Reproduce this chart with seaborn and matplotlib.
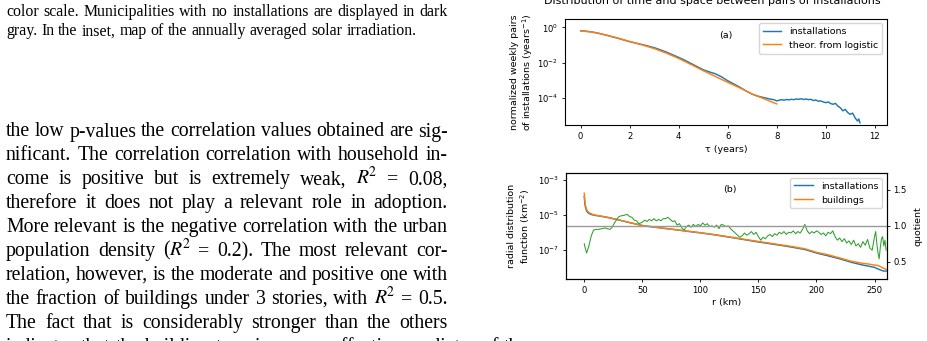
import matplotlib
matplotlib.use("Agg")
import matplotlib.pyplot as plt
import seaborn as sns
import numpy as np
import pandas as pd
from matplotlib.ticker import FixedLocator, NullLocator

# ---------------- data ----------------
tau_inst = [0.0, 0.25, 0.5, 0.75, 1.0, 1.25, 1.5, 1.75, 2.0, 2.25, 2.5, 2.75, 3.0, 3.25,
            3.5, 3.75, 4.0, 4.25, 4.5, 4.75, 5.0, 5.25, 5.5, 5.75, 6.0, 6.25, 6.5, 6.75,
            7.0, 7.25, 7.5, 7.6, 7.7, 7.8, 7.9, 8.0, 8.1, 8.2, 8.3, 8.4, 8.5, 8.6, 8.7,
            8.8, 8.9, 9.0, 9.1, 9.2, 9.3, 9.4, 9.5, 9.6, 9.7, 9.8, 9.9, 10.0, 10.1, 10.2,
            10.3, 10.4, 10.5, 10.6, 10.7, 10.8, 10.9, 11.0, 11.1, 11.2, 11.3, 11.35, 11.4]
log10_pairs_inst = [-0.19, -0.22, -0.27, -0.34, -0.43, -0.52, -0.61, -0.71, -0.81, -0.89,
                    -0.97, -1.06, -1.15, -1.27, -1.40, -1.55, -1.70, -1.86, -2.04, -2.22,
                    -2.40, -2.52, -2.63, -2.80, -3.02, -3.20, -3.39, -3.60, -3.78, -3.90,
                    -3.98, -4.01, -4.05, -4.07, -4.10, -4.16, -4.12, -4.09, -4.12, -4.08,
                    -4.10, -4.07, -4.09, -4.05, -4.07, -4.04, -4.08, -4.05, -4.09, -4.07,
                    -4.14, -4.11, -4.18, -4.16, -4.22, -4.26, -4.22, -4.31, -4.35, -4.30,
                    -4.46, -4.55, -4.72, -4.64, -4.82, -4.92, -4.85, -5.12, -5.30, -5.18, -5.40]

tau_theor = [0.0, 0.5, 1.0, 1.5, 2.0, 2.5, 3.0, 3.5, 4.0, 4.5, 5.0, 5.5, 6.0, 6.5, 7.0, 7.5, 8.0]
log10_pairs_theor = [-0.20, -0.28, -0.42, -0.60, -0.80, -0.99, -1.20, -1.46, -1.76, -2.10,
                     -2.45, -2.78, -3.11, -3.43, -3.77, -4.05, -4.33]

r_rdf = [0, 0.5, 1, 2, 3, 5, 7, 10, 15, 20, 30, 40, 50, 60, 70, 80, 90, 100, 110, 120, 130,
         140, 150, 160, 170, 180, 190, 200, 210, 220, 230, 240, 245, 250, 253, 256, 258, 260]
log10_rdf_inst = [-3.95, -4.35, -4.55, -4.76, -4.86, -4.95, -4.99, -5.03, -5.08, -5.14, -5.29,
                  -5.45, -5.60, -5.69, -5.77, -5.85, -5.94, -6.02, -6.11, -6.21, -6.32, -6.43,
                  -6.54, -6.64, -6.74, -6.85, -6.97, -7.17, -7.33, -7.50, -7.70, -7.86, -7.92,
                  -7.99, -8.08, -8.16, -8.20, -8.20]
log10_rdf_build = [-3.76, -4.20, -4.45, -4.68, -4.80, -4.90, -4.96, -5.01, -5.07, -5.13, -5.28,
                   -5.44, -5.60, -5.69, -5.77, -5.85, -5.93, -6.01, -6.10, -6.20, -6.30, -6.41,
                   -6.51, -6.61, -6.71, -6.81, -6.93, -7.13, -7.27, -7.45, -7.64, -7.76, -7.80,
                   -7.86, -7.88, -7.98, -8.05, -8.10]

r_quot = [0, 1, 2, 4, 6, 8, 10, 12, 15, 18, 20, 22, 24, 26, 28, 30, 32, 35, 37, 39, 41, 43, 45,
          47, 50, 52, 54, 56, 58, 60, 62, 64, 66, 68, 70, 72, 74, 76, 78, 80, 82, 84, 86, 88,
          90, 92, 94, 96, 98, 100, 102, 104, 106, 108, 110, 112, 114, 116, 118, 120, 122, 124,
          126, 128, 130, 132, 134, 136, 138, 140, 142, 144, 146, 148, 150, 152, 154, 156, 158,
          160, 162, 164, 166, 168, 170, 172, 174, 176, 178, 180, 182, 184, 186, 188, 190, 192,
          194, 196, 198, 200, 202, 204, 206, 208, 210, 212, 214, 216, 218, 220, 222, 224, 226,
          228, 230, 232, 234, 236, 238, 240, 242, 244, 246, 248, 250, 251, 252, 253, 254, 255,
          256, 257, 258, 259, 260]
quotient = [0.75, 0.68, 0.62, 0.72, 0.86, 0.94, 0.95, 0.95, 0.96, 0.97, 0.96, 0.95, 0.98, 1.04,
            1.09, 1.13, 1.14, 1.15, 1.16, 1.13, 1.12, 1.08, 1.07, 1.03, 1.05, 1.08, 1.06, 1.09,
            1.07, 1.10, 1.07, 1.09, 1.07, 1.10, 1.10, 1.12, 1.09, 1.06, 1.07, 1.01, 1.03, 0.97,
            0.94, 0.99, 1.01, 0.98, 1.02, 0.99, 1.02, 1.00, 1.04, 1.01, 1.03, 0.99, 1.00, 0.98,
            1.01, 0.96, 1.02, 1.01, 0.99, 1.00, 0.96, 0.93, 0.90, 0.87, 0.84, 0.86, 0.90, 0.87,
            0.89, 0.92, 0.88, 0.91, 0.85, 0.80, 0.84, 0.82, 0.86, 0.88, 0.85, 0.89, 0.87, 0.91,
            0.89, 0.92, 0.88, 0.91, 0.90, 0.93, 0.89, 0.92, 0.90, 0.95, 1.02, 0.93, 0.89, 0.92,
            0.90, 0.93, 0.91, 0.88, 0.90, 0.86, 0.91, 0.89, 0.93, 0.85, 0.80, 0.83, 0.78, 0.82,
            0.76, 0.79, 0.74, 0.80, 0.72, 0.75, 0.70, 0.78, 0.73, 0.81, 0.69, 0.66, 0.85, 0.92,
            0.75, 0.62, 0.54, 0.70, 0.82, 0.85, 0.72, 0.80, 0.66]

tau_ticks = [0, 2, 4, 6, 8, 10, 12]
pairs_ticks = [1e0, 1e-2, 1e-4]
r_ticks = [0, 50, 100, 150, 200, 250]
rdf_ticks = [1e-3, 1e-5, 1e-7]
quot_ticks = [0.5, 1.0, 1.5]

caption_lines = [
    "color scale. Municipalities with no installations are displayed in dark",
    "gray. In the inset, map of the annually averaged solar irradiation.",
]
body_lines = [
    "the low p-values the correlation values obtained are sig-",
    "nificant. The correlation correlation with household in-",
    "come is positive but is extremely weak, $R^{\\!2}$ = 0.08,",
    "therefore it does not play a relevant role in adoption.",
    "More relevant is the negative correlation with the urban",
    "population density ($R^{\\!2}$ = 0.2). The most relevant cor-",
    "relation, however, is the moderate and positive one with",
    "the fraction of buildings under 3 stories, with $R^{\\!2}$ = 0.5.",
    "The fact that is considerably stronger than the others",
    "indicates that the building type is a more effective predictor of the",
]

# ---------------- figure ----------------
W, H = 928, 341
LAB = 6.8     # axis labels / legend
TCK = 6.1     # tick labels
plt.rcParams.update({
    "font.family": ["DejaVu Sans"],
    "mathtext.fontset": "dejavusans",
    "axes.linewidth": 0.8,
    "xtick.major.size": 2.45, "ytick.major.size": 2.45,
    "xtick.major.width": 0.6, "ytick.major.width": 0.6,
    "xtick.major.pad": 2.45, "ytick.major.pad": 2.45,
    "xtick.labelsize": TCK, "ytick.labelsize": TCK,
    "font.size": LAB,
})
fig = plt.figure(figsize=(W / 100, H / 100), dpi=100)


def px_axes(x0, y0, x1, y1):
    return fig.add_axes([x0 / W, 1 - y1 / H, (x1 - x0) / W, (y1 - y0) / H])


blue, orange, green = "#1f77b4", "#ff7f0e", "#2ca02c"

# ----- panel (a) -----
ax1 = px_axes(565, 18.5, 886.7, 125.3)
df_inst = pd.DataFrame({"tau": tau_inst, "pairs": np.power(10.0, log10_pairs_inst)})
df_theor = pd.DataFrame({"tau": tau_theor, "pairs": np.power(10.0, log10_pairs_theor)})
sns.lineplot(data=df_inst, x="tau", y="pairs", ax=ax1, color=blue, lw=1.05,
             label="installations", estimator=None, sort=False)
sns.lineplot(data=df_theor, x="tau", y="pairs", ax=ax1, color=orange, lw=1.05,
             label="theor. from logistic", estimator=None, sort=False)
ax1.set_yscale("log")
ax1.set_xlim(-0.64, 12.49)
ax1.set_ylim(10 ** -5.54, 10 ** 0.5)
ax1.xaxis.set_major_locator(FixedLocator(tau_ticks))
ax1.yaxis.set_major_locator(FixedLocator(pairs_ticks))
ax1.yaxis.set_minor_locator(NullLocator())
ax1.set_xlabel("τ (years)", fontsize=LAB)
ax1.xaxis.set_label_coords(0.5, -0.18)
ax1.set_ylabel("")
ax1.text((522.5 - 565) / 321.7, 0.5, "normalized weekly pairs\nof installations (years$^{-1}$)",
         transform=ax1.transAxes, rotation=90, ha="center", va="center", ma="center",
         fontsize=LAB)
ax1.text(0.5, 0.84, "(a)", transform=ax1.transAxes, ha="center", va="center", fontsize=LAB)
ax1.legend(loc="upper right", fontsize=LAB)

# ----- panel (b) -----
ax2 = px_axes(565.7, 173.3, 886.7, 279.3)
df_rdf = pd.DataFrame({"r": r_rdf,
                       "inst": np.power(10.0, log10_rdf_inst),
                       "build": np.power(10.0, log10_rdf_build)})
sns.lineplot(data=df_rdf, x="r", y="inst", ax=ax2, color=blue, lw=1.05,
             label="installations", estimator=None, sort=False)
sns.lineplot(data=df_rdf, x="r", y="build", ax=ax2, color=orange, lw=1.05,
             label="buildings", estimator=None, sort=False)
ax2.set_yscale("log")
ax2.set_xlim(-16, 260.5)
ax2.set_ylim(10 ** -8.67, 10 ** -2.62)
ax2.xaxis.set_major_locator(FixedLocator(r_ticks))
ax2.yaxis.set_major_locator(FixedLocator(rdf_ticks))
ax2.yaxis.set_minor_locator(NullLocator())
ax2.set_xlabel("r (km)", fontsize=LAB)
ax2.xaxis.set_label_coords(0.5, -0.175)
ax2.set_ylabel("")
ax2.text((519.2 - 565.7) / 321.0, 0.5, "radial distribution\nfunction (km$^{-2}$)",
         transform=ax2.transAxes, rotation=90, ha="center", va="center", ma="center",
         fontsize=LAB)
ax2.text(0.51, 0.85, "(b)", transform=ax2.transAxes, ha="center", va="center", fontsize=LAB)
ax2.legend(loc="upper right", fontsize=LAB)

ax2q = ax2.twinx()
df_q = pd.DataFrame({"r": r_quot, "q": quotient})
sns.lineplot(data=df_q, x="r", y="q", ax=ax2q, color=green, lw=0.75,
             estimator=None, sort=False, legend=False)
ax2q.axhline(1.0, color="0.6", lw=1.0)
ax2q.set_ylim(0.254, 1.733)
ax2q.set_xlim(-16, 260.5)
ax2q.yaxis.set_major_locator(FixedLocator(quot_ticks))
ax2q.set_ylabel("")
ax2q.text((918.3 - 565.7) / 321.0, 0.5, "quotient", transform=ax2q.transAxes,
          rotation=90, ha="center", va="center", fontsize=LAB)

fig.text(712.8 / W, 1 - 4.0 / H, "Distribution of time and space between pairs of installations",
         ha="center", va="baseline", fontsize=8.0)

# ---------------- paper text on the left ----------------
renderer = fig.canvas.get_renderer()
SERIF = ["Liberation Serif", "DejaVu Serif"]


def set_line(text, baseline, size, x0=6.0, x1=447.7, justify=True):
    words = text.split(" ")
    objs = [fig.text(0, 0, w, fontsize=size, family=SERIF, va="baseline", ha="left",
                     color="black", math_fontfamily="stix") for w in words]
    widths = [o.get_window_extent(renderer).width for o in objs]
    if justify and len(words) > 1:
        gap = (x1 - x0 - sum(widths)) / (len(words) - 1)
    else:
        gap = 0.25 * size * 100 / 72
    x = x0
    for o, w in zip(objs, widths):
        o.set_position((x / W, 1 - baseline / H))
        x += w + gap


cap_size = 11.4
body_size = 14.2
set_line(caption_lines[0], 16.3, cap_size)
set_line(caption_lines[1], 35.3, cap_size, justify=False)
base0, lead = 136.5, 23.9
for i, line in enumerate(body_lines):
    set_line(line, base0 + i * lead, body_size, justify=(i < len(body_lines) - 1))

fig.savefig("out.png", dpi=100)
